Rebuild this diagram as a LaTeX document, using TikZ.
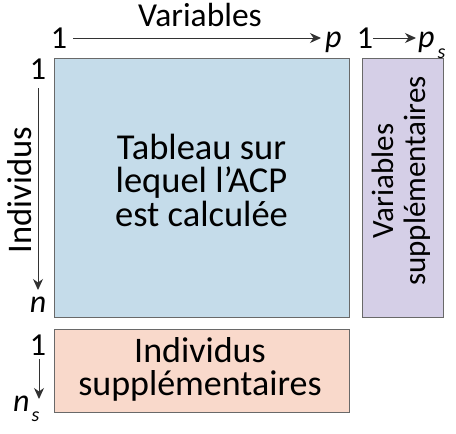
\documentclass[tikz,border=0pt]{standalone}
\usepackage{fontspec}
\setmainfont{Carlito}
\usetikzlibrary{arrows.meta}
\definecolor{bluefill}{RGB}{197,220,234}
\definecolor{purplefill}{RGB}{213,207,231}
\definecolor{orangefill}{RGB}{249,217,203}
\definecolor{edgegray}{RGB}{105,105,105}
\definecolor{arrowgray}{RGB}{50,50,50}
\begin{document}
\begin{tikzpicture}[x=1pt,y=-1pt,
  box/.style={draw=edgegray, line width=1.2pt, inner sep=0pt, anchor=north west},
  lbl/.style={inner sep=0pt, anchor=base, font=\fontsize{32}{32}\selectfont},
  axis/.style={draw=arrowgray, line width=1pt, -{Stealth[length=11pt,width=10pt,inset=3.5pt]}},
  big/.style={inner sep=0pt, anchor=base, align=center, font=\fontsize{36.5}{33.5}\selectfont},
  ]
\useasboundingbox (0,0) rectangle (456,434);
\fill[white] (0,0) rectangle (456,434);

% boxes
\node[box, fill=bluefill, minimum width=295pt, minimum height=259pt] (main) at (54,58) {};
\node[box, fill=purplefill, minimum width=81pt, minimum height=259pt] (supvar) at (362,58) {};
\node[box, fill=orangefill, minimum width=295pt, minimum height=83pt] (supind) at (54,329) {};

% box texts (base anchor = last line baseline)
\node[big] (maintext) at (201.5,226) {Tableau sur\\lequel l’ACP\\est calculée};
\node[big, rotate=90, font=\fontsize{31}{32}\selectfont] (supvartext) at (425,181) {Variables\\supplémentaires};
\node[big, font=\fontsize{36}{32.5}\selectfont] (supindtext) at (200,395) {Individus\\supplémentaires};

% top labels
\node[lbl, font=\fontsize{33.5}{33.5}\selectfont] (vartitle) at (200,26) {Variables};
\node[lbl] (top1) at (59,48) {1};
\node[lbl, anchor=base west] (topp) at (325,47) {\itshape p};
\node[lbl] (top1s) at (365,48) {1};
\node[lbl, anchor=base west] (topps) at (418,47) {\itshape p\hspace{3pt}\raisebox{-11pt}{\fontsize{20}{20}\selectfont s}};

\coordinate (ta1) at (73,38);
\coordinate (ta2) at (321,38);
\coordinate (tb1) at (373,38);
\coordinate (tb2) at (416,38);
\draw[axis] (ta1) -- (ta2);
\draw[axis] (tb1) -- (tb2);

% left labels
\node[lbl, font=\fontsize{34.5}{34.5}\selectfont, rotate=90] (indtitle) at (31,190) {Individus};
\node[lbl] (left1) at (38,79) {1};
\node[lbl] (leftn) at (38,312) {\itshape n};
\node[lbl] (left1s) at (38,355) {1};
\node[lbl, anchor=base west] (leftns) at (13,411) {\itshape n\hspace{2pt}\raisebox{-10pt}{\fontsize{20}{20}\selectfont s}};

\coordinate (la1) at (38,88);
\coordinate (la2) at (38,290);
\coordinate (lb1) at (39,359);
\coordinate (lb2) at (39,399);
\draw[axis] (la1) -- (la2);
\draw[axis] (lb1) -- (lb2);
\end{tikzpicture}
\end{document}
